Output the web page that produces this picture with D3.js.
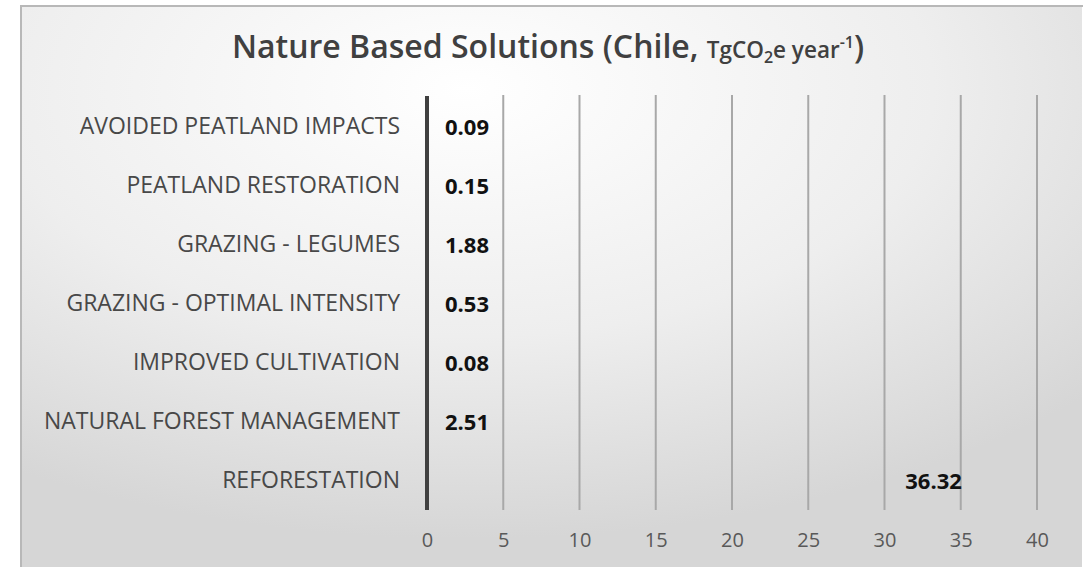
<!DOCTYPE html>
<html>
<head>
<meta charset="utf-8">
<script src="https://cdn.jsdelivr.net/npm/d3@7"></script>
<style>
  body { margin: 0; background: #fff; }
  svg { display: block; }
</style>
</head>
<body>
<svg id="chart" width="1091" height="569"></svg>
<script>
// categories, top to bottom
const categories = [
  "AVOIDED PEATLAND IMPACTS",
  "PEATLAND RESTORATION",
  "GRAZING - LEGUMES",
  "GRAZING - OPTIMAL INTENSITY",
  "IMPROVED CULTIVATION",
  "NATURAL FOREST MANAGEMENT",
  "REFORESTATION"
];
const values = [0.09, 0.15, 1.88, 0.53, 0.08, 2.51, 36.32];
const xTicks = [0, 5, 10, 15, 20, 25, 30, 35, 40];

let svg = d3.select("#chart"),
  margin = {top: 97, right: 54, bottom: 59, left: 427},
  width = +svg.attr("width") - margin.left - margin.right,
  height = +svg.attr("height") - margin.top - margin.bottom;

// background gradient of the chart area
let defs = svg.append("defs");
let grad = defs.append("radialGradient")
  .attr("id", "bg")
  .attr("cx", "42%").attr("cy", "15%").attr("r", "80%");
grad.append("stop").attr("offset", "0%").attr("stop-color", "#ffffff");
grad.append("stop").attr("offset", "55%").attr("stop-color", "#eeeeee");
grad.append("stop").attr("offset", "100%").attr("stop-color", "#d6d6d6");

svg.append("rect")
  .attr("x", 20).attr("y", 5)
  .attr("width", 1062).attr("height", 562)
  .attr("fill", "url(#bg)");
// frame edges, top and left
svg.append("path")
  .attr("d", "M21,567 V6 H1083")
  .attr("fill", "none")
  .attr("stroke", "#b8b8b8")
  .attr("stroke-width", 2);

// title
let title = svg.append("text")
  .attr("x", 548).attr("y", 58)
  .attr("text-anchor", "middle")
  .attr("font-family", "'Open Sans', sans-serif")
  .attr("font-weight", 600)
  .attr("fill", "#404040");
title.append("tspan").attr("font-size", 32).text("Nature Based Solutions (Chile, ");
title.append("tspan").attr("font-size", 22.5).text("TgCO");
title.append("tspan").attr("font-size", 16).attr("dy", 5).text("2");
title.append("tspan").attr("font-size", 22.5).attr("dy", -5).text("e year");
title.append("tspan").attr("font-size", 16).attr("dy", -10).text("-1");
title.append("tspan").attr("font-size", 32).attr("dy", 10).text(")");

let g = svg.append("g")
  .attr("transform", "translate(" + margin.left + "," + margin.top + ")");

let x = d3.scaleLinear()
  .domain([0, 40])
  .range([0, width]);

let y = d3.scaleBand()
  .domain(categories)
  .range([0, height])
  .paddingInner(0.35)
  .paddingOuter(0.175);

// gridlines (skip zero, drawn as the axis line)
g.append("g")
  .attr("class", "grid")
  .selectAll("line")
  .data(xTicks.filter(d => d !== 0))
  .join("line")
  .attr("x1", d => x(d)).attr("x2", d => x(d))
  .attr("y1", -2).attr("y2", height)
  .attr("stroke", "#a8a8a8")
  .attr("stroke-width", 2);

// bars (no fill in the original picture)
g.append("g")
  .selectAll("rect")
  .data(values)
  .join("rect")
  .attr("x", x(0))
  .attr("y", (d, i) => y(categories[i]))
  .attr("width", d => x(d) - x(0))
  .attr("height", y.bandwidth())
  .attr("fill", "none");

// zero axis line
g.append("line")
  .attr("x1", x(0)).attr("x2", x(0))
  .attr("y1", -1).attr("y2", height)
  .attr("stroke", "#404040")
  .attr("stroke-width", 4);

// x axis tick labels
g.append("g")
  .attr("class", "x-axis")
  .attr("transform", "translate(0," + height + ")")
  .call(d3.axisBottom(x).tickValues(xTicks).tickSize(0).tickPadding(23))
  .call(a => a.select(".domain").remove())
  .selectAll("text")
  .attr("font-family", "'Open Sans', sans-serif")
  .attr("font-size", 20)
  .attr("fill", "#595959");

// category labels
g.append("g")
  .attr("class", "y-axis")
  .call(d3.axisLeft(y).tickSize(0).tickPadding(27))
  .call(a => a.select(".domain").remove())
  .selectAll("text")
  .attr("font-family", "'Open Sans', sans-serif")
  .attr("font-size", 23)
  .attr("fill", "#484848");

// value labels, inside end; clamp to start when bar is too short
let labels = g.append("g")
  .selectAll("text")
  .data(values)
  .join("text")
  .attr("y", (d, i) => y(categories[i]) + y.bandwidth() / 2)
  .attr("dy", "0.4em")
  .attr("font-family", "'Open Sans', sans-serif")
  .attr("font-weight", 700)
  .attr("font-size", 22)
  .attr("fill", "#111")
  .text(d => d.toFixed(2));

labels.each(function(d) {
  let w = this.getComputedTextLength();
  let xs = x(d) - 19 - w;
  if (xs < x(0) + 18) xs = x(0) + 18;
  d3.select(this).attr("x", xs);
});
</script>
</body>
</html>
